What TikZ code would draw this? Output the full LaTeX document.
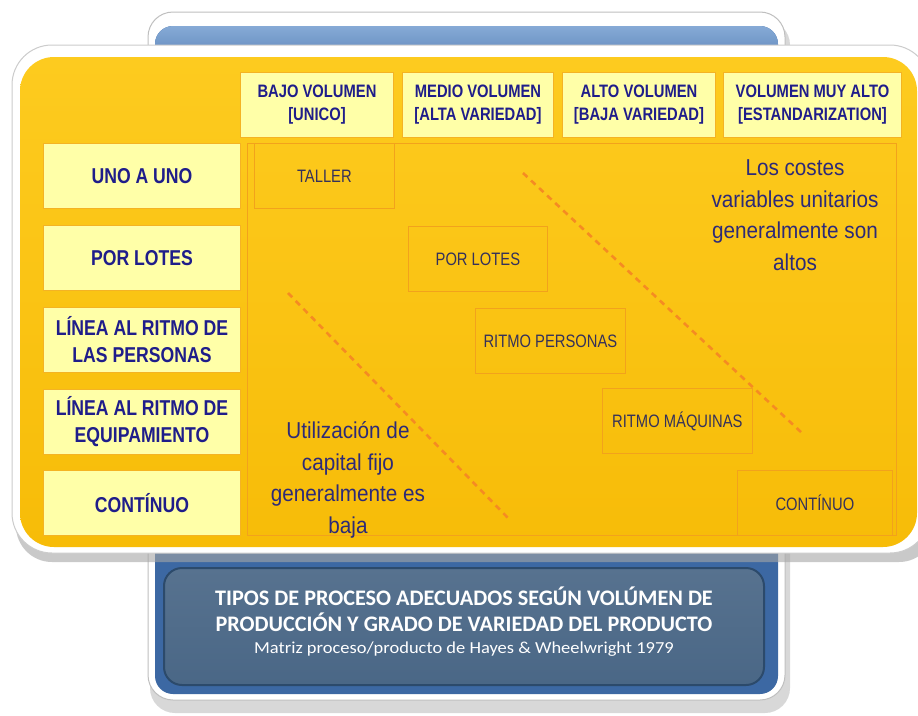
\documentclass[tikz,border=0pt]{standalone}
\usepackage{fontspec}
\setmainfont{Liberation Sans}
\newfontfamily\narrowfont[FakeStretch=0.82]{Liberation Sans}
\newfontfamily\midfont[FakeStretch=0.9]{Liberation Sans}
\newfontfamily\calfont{Carlito}
\newfontfamily\calwide[FakeStretch=1.1]{Carlito}
\definecolor{ylw}{HTML}{F7BC08}
\definecolor{ylwtop}{HTML}{FDCB1F}
\definecolor{lightbox}{HTML}{FFFFA8}
\definecolor{boxedge}{HTML}{F4B324}
\definecolor{cellline}{HTML}{F2A21C}
\definecolor{dashc}{HTML}{F58B22}
\definecolor{hdtext}{HTML}{1F1D8A}
\definecolor{bigtext}{HTML}{2D2A78}
\definecolor{celltext}{HTML}{35315A}
\definecolor{bluepanel}{HTML}{3C68A3}
\definecolor{bluetop}{HTML}{86AAD6}
\definecolor{slatetop}{HTML}{57728F}
\definecolor{slatebot}{HTML}{4A6786}
\definecolor{slateedge}{HTML}{2C4A6B}
\begin{document}
\begin{tikzpicture}[x=1pt,y=-1pt,
  hdr/.style={draw=boxedge, line width=1pt, fill=lightbox, anchor=north west, inner sep=0pt, align=center, text=hdtext, font=\narrowfont\bfseries\fontsize{18}{23}\selectfont},
  rowlbl/.style={hdr, minimum width=197pt, minimum height=65pt, font=\narrowfont\bfseries\fontsize{21.5}{27}\selectfont},
  cell/.style={draw=cellline, line width=0.8pt, anchor=north west, inner sep=0pt, align=center, text=celltext, minimum height=65pt, font=\narrowfont\fontsize{18}{21}\selectfont},
  note/.style={align=center, text=bigtext, font=\midfont\fontsize{23}{31.5}\selectfont},
  dashline/.style={draw=dashc, line width=2.6pt, dash pattern=on 6pt off 5pt}
]
\useasboundingbox (0,0) rectangle (918,715);
\fill[white] (0,0) rectangle (918,715);

% back blue panel
\fill[black!30, opacity=0.5, rounded corners=25pt] (150,20) rectangle (790,713);
\draw[fill=white, draw=black!25, line width=1pt, rounded corners=25pt] (148,12) rectangle (785,700);
\fill[bluepanel, rounded corners=18pt] (155,26) rectangle (778,694);
\shade[top color=bluetop, bottom color=bluepanel, rounded corners=18pt] (155,26) rectangle (778,90);

% yellow panel
\fill[black!35, opacity=0.6, rounded corners=36pt] (16,52) rectangle (935,562);
\draw[fill=white, draw=black!20, line width=1pt, rounded corners=40pt] (12,45) rectangle (930,553);
\shade[top color=ylwtop, bottom color=ylw, rounded corners=34pt] (20,57) rectangle (917,547);

% header boxes
\node[hdr, minimum width=153pt, minimum height=65pt] (h1) at (240,72) {BAJO VOLUMEN\\{}[UNICO]};
\node[hdr, minimum width=151pt, minimum height=65pt] (h2) at (402,72) {MEDIO VOLUMEN\\{}[ALTA VARIEDAD]};
\node[hdr, minimum width=153pt, minimum height=65pt] (h3) at (562,72) {ALTO VOLUMEN\\{}[BAJA VARIEDAD]};
\node[hdr, minimum width=178pt, minimum height=65pt] (h4) at (723,72) {VOLUMEN MUY ALTO\\{}[ESTANDARIZATION]};

% row boxes
\node[rowlbl] (r1) at (43,143) {UNO A UNO};
\node[rowlbl] (r2) at (43,225) {POR LOTES};
\node[rowlbl] (r3) at (43,307) {LÍNEA AL RITMO DE\\LAS PERSONAS};
\node[rowlbl] (r4) at (43,389) {LÍNEA AL RITMO DE\\EQUIPAMIENTO};
\node[rowlbl] (r5) at (43,470) {CONTÍNUO};

% grid frame
\node[draw=cellline, line width=0.8pt, anchor=north west, inner sep=0pt, minimum width=649pt, minimum height=392pt] (grid) at (247,143) {};

% cells
\node[cell, minimum width=140pt] (c1) at (254,143) {TALLER};
\node[cell, minimum width=139pt] (c2) at (408,226) {POR LOTES};
\node[cell, minimum width=150pt] (c3) at (475,308) {RITMO PERSONAS};
\node[cell, minimum width=150pt] (c4) at (602,388) {RITMO MÁQUINAS};
\node[cell, minimum width=155pt] (c5) at (737,470) {CONTÍNUO};

% dashed diagonals
\coordinate (d1a) at (523,173);
\coordinate (d1b) at (802,433);
\coordinate (d2a) at (288,293);
\coordinate (d2b) at (510,520);
\draw[dashline] (d1a) -- (d1b);
\draw[dashline] (d2a) -- (d2b);

% notes
\node[note] (n1) at (795,215) {Los costes\\variables unitarios\\generalmente son\\altos};
\node[note] (n2) at (348,480) {Utilización de\\capital fijo\\generalmente es\\baja};

% caption box
\shade[top color=slatetop, bottom color=slatebot, draw=slateedge, line width=2pt, rounded corners=18pt] (164,568) rectangle (764,685);
\node[text=white, align=center, font=\calfont\bfseries\fontsize{22.2}{25.5}\selectfont] (title) at (464,609) {TIPOS DE PROCESO ADECUADOS SEGÚN VOLÚMEN DE\\PRODUCCIÓN Y GRADO DE VARIEDAD DEL PRODUCTO};
\node[text=white, font=\calwide\fontsize{16.8}{19}\selectfont] (sub) at (464,649) {Matriz proceso/producto de Hayes \& Wheelwright 1979};
\end{tikzpicture}
\end{document}
